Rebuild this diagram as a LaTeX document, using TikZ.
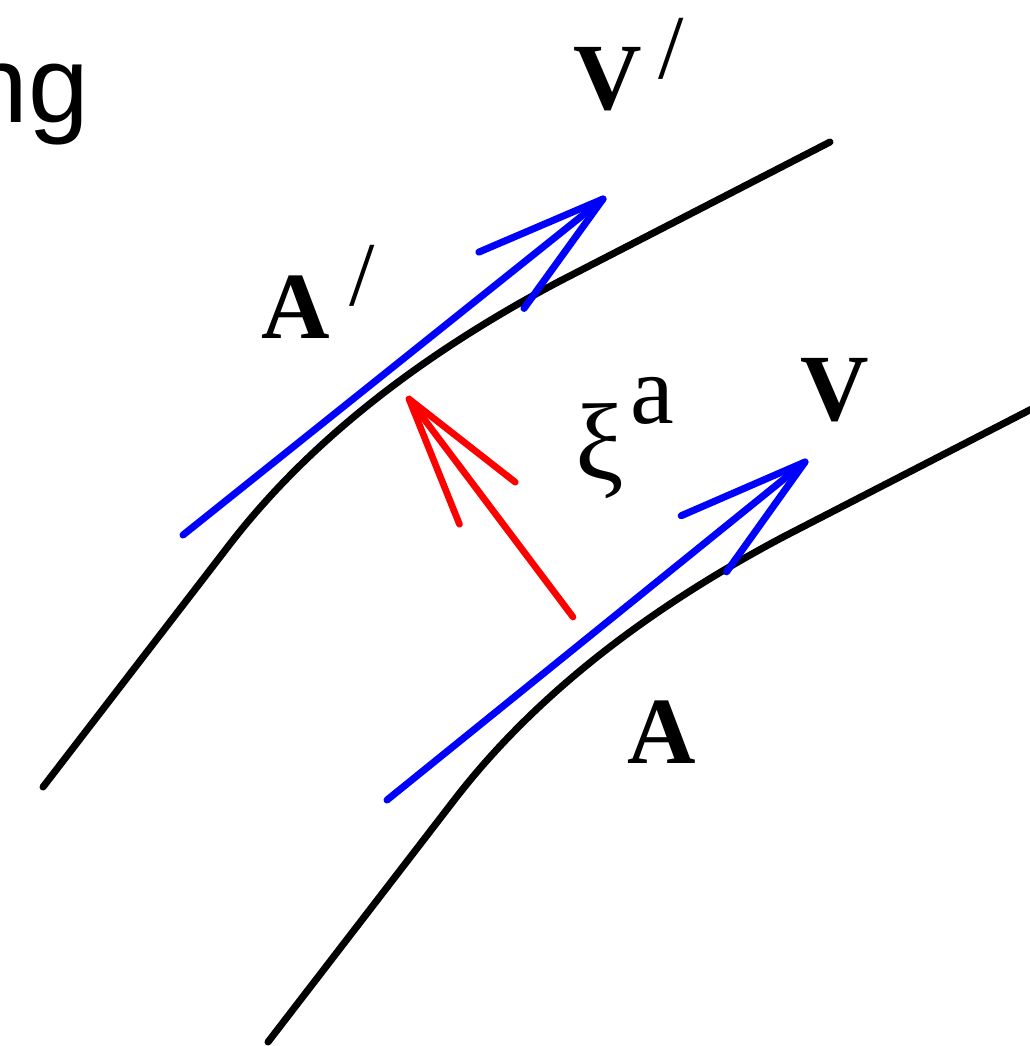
\documentclass[tikz,border=0pt]{standalone}
\usepackage{fontspec}
\setmainfont{Liberation Serif}
\newfontfamily\labelsans{Liberation Sans}
\usetikzlibrary{calc}
\begin{document}
\begin{tikzpicture}[x=0.02cm,y=-0.02cm,
  worldline/.style={line width=4pt,black,line cap=round,line join=round},
  vecblue/.style={line width=4pt,blue,line cap=round,line join=round},
  vecred/.style={line width=3.8pt,red,line cap=round,line join=round},
  boldlbl/.style={inner sep=0pt,font=\fontsize{54}{54}\selectfont\bfseries},
  primelbl/.style={inner sep=0pt,font=\fontsize{52}{52}\selectfont},
  greeklbl/.style={inner sep=0pt,font=\fontsize{62}{62}\selectfont},
  idxlbl/.style={inner sep=0pt,font=\fontsize{56}{56}\selectfont}]
\useasboundingbox (0,0) rectangle (1030,1046);

% partial heading
\node[inner sep=0pt,anchor=base east,font=\labelsans\fontsize{62}{62}\selectfont] (head) at (89,122) {ng};

% world lines
\draw[worldline] (43,787) -- (230,544) .. controls (307.3,444) and (417.3,356.3) .. (560,281) -- (830,142);
\begin{scope}[shift={(225,255)}]
\draw[worldline] (43,787) -- (230,544) .. controls (307.3,444) and (417.3,356.3) .. (560,281) -- (830,142);
\end{scope}

% tangent vector V' at A'
\coordinate (upT) at (183,535);
\coordinate (upH) at (603,199);
\draw[vecblue] (upT) -- (upH);
\draw[vecblue] ($(upH)!2.7cm!15.5:(upT)$) -- (upH) -- ($(upH)!2.7cm!-15.5:(upT)$);

% tangent vector V at A
\coordinate (loT) at (387,800);
\coordinate (loH) at (805,462);
\draw[vecblue] (loT) -- (loH);
\draw[vecblue] ($(loH)!2.7cm!15.5:(loT)$) -- (loH) -- ($(loH)!2.7cm!-15.5:(loT)$);

% deviation vector xi^a
\coordinate (dvT) at (573,617);
\coordinate (dvH) at (409,399);
\draw[vecred] (dvT) -- (dvH);
\draw[vecred] ($(dvH)!2.7cm!15:(dvT)$) -- (dvH) -- ($(dvH)!2.7cm!-15:(dvT)$);

% labels
\node[boldlbl] (Vp) at (608,79) {V};
\node[primelbl] (Vpp) at (671,49) {/};
\node[boldlbl] (Ap) at (296,307) {A};
\node[primelbl] (App) at (362,276) {/};
\node[boldlbl] (V) at (835,390) {V};
\node[boldlbl] (A) at (662,732) {A};
\node[greeklbl] (xi) at (600,451) {ξ};
\node[idxlbl] (xia) at (652,401) {a};
\end{tikzpicture}
\end{document}
